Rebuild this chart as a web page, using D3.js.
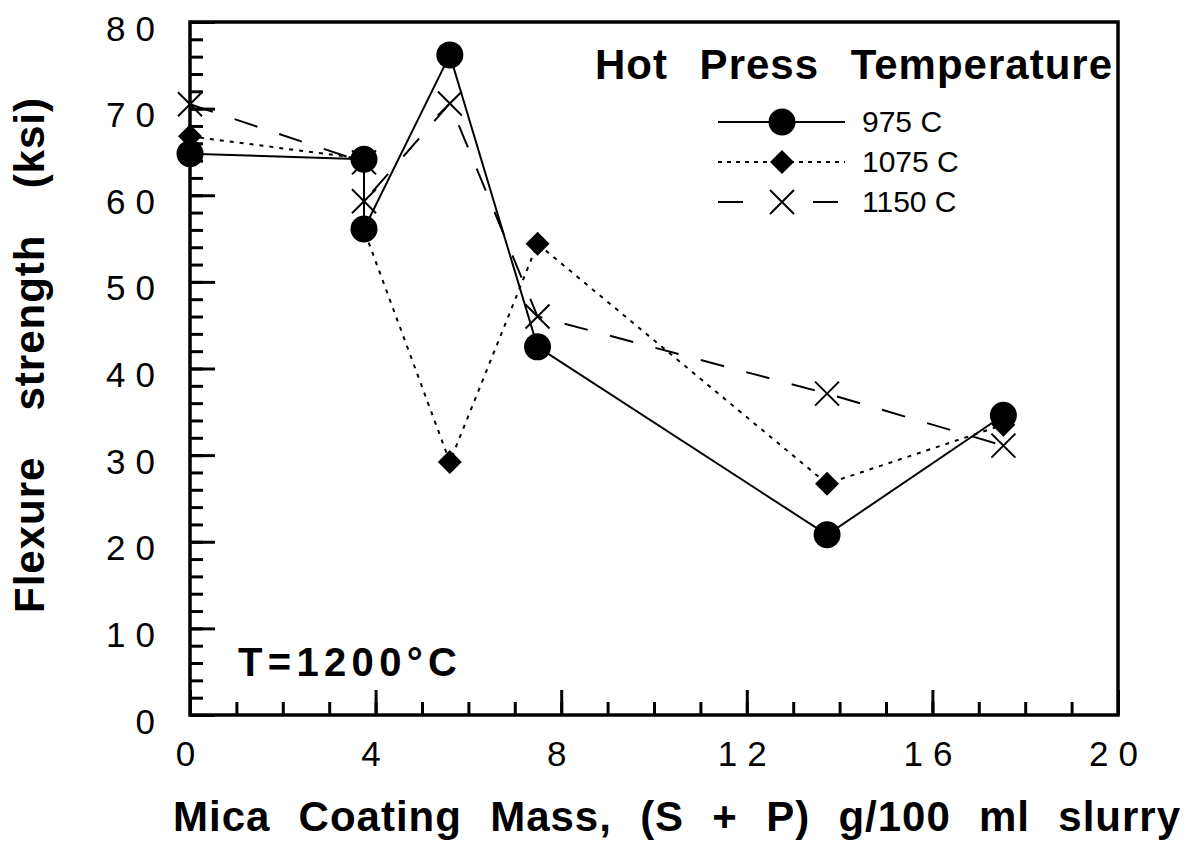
<!DOCTYPE html>
<html>
<head>
<meta charset="utf-8">
<script src="https://cdn.jsdelivr.net/npm/d3@7"></script>
<style>
  html, body { margin: 0; padding: 0; background: #fff; }
  svg { display: block; font-family: "Liberation Sans", Arial, Helvetica, sans-serif; }
</style>
</head>
<body>
<svg id="chart" width="1188" height="842"></svg>
<script>
// ---------------- data ----------------
const massX   = [0, 3.75, 3.75, 5.60, 7.49, 13.73, 17.53];
const s975    = [64.8, 64.15, 56.1, 76.2, 42.5, 20.8, 34.6];
const s1075   = [66.8, 64.2, 56.0, 29.2, 54.4, 26.7, 33.5];
const s1150   = [70.5, 63.8, 59.3, 70.6, 46.0, 37.1, 31.1];
const seriesNames = ["975 C", "1075 C", "1150 C"];
const xMajorTicks = [0, 4, 8, 12, 16, 20];
const xMinorTicks = d3.range(0, 21, 1);
const yMajorTicks = [0, 10, 20, 30, 40, 50, 60, 70, 80];
const yMinorTicks = d3.range(0, 81, 2);
const xTitle = "Mica Coating Mass, (S + P) g/100 ml slurry";
const yTitle = "Flexure strength (ksi)";
const legendTitle = "Hot Press Temperature";
const noteText = "T=1200\u00B0C";

// ---------------- layout ----------------
const svg = d3.select("#chart");
const L = 190, T = 22, R = 1118, B = 715;
const x = d3.scaleLinear().domain([0, 20]).range([L, R]);
const y = d3.scaleLinear().domain([0, 80]).range([B, T]);
const FONT = "'Liberation Sans', Arial, sans-serif";

svg.append("rect").attr("width", 1188).attr("height", 842).attr("fill", "#fff");

// minor ticks
svg.append("g").attr("transform", `translate(0,${B})`)
  .call(d3.axisBottom(x).tickValues(xMinorTicks).tickSize(-13).tickSizeOuter(0).tickFormat(""))
  .call(g => g.select(".domain").remove())
  .call(g => g.selectAll("line").attr("stroke", "#000").attr("stroke-width", 3));
svg.append("g").attr("transform", `translate(${L},0)`)
  .call(d3.axisLeft(y).tickValues(yMinorTicks).tickSize(-13).tickSizeOuter(0).tickFormat(""))
  .call(g => g.select(".domain").remove())
  .call(g => g.selectAll("line").attr("stroke", "#000").attr("stroke-width", 3));

// major ticks + labels
const xAxis = svg.append("g").attr("transform", `translate(0,${B})`)
  .call(d3.axisBottom(x).tickValues(xMajorTicks).tickSize(-25).tickSizeOuter(0).tickFormat(d3.format("d")));
xAxis.select(".domain").remove();
xAxis.selectAll("line").attr("stroke", "#000").attr("stroke-width", 3);
xAxis.selectAll("text").attr("y", 51).attr("dy", null)
  .attr("font-size", 35).attr("letter-spacing", "10px").attr("fill", "#000")
  .attr("font-family", FONT);

const yAxis = svg.append("g").attr("transform", `translate(${L},0)`)
  .call(d3.axisLeft(y).tickValues(yMajorTicks).tickSize(-25).tickSizeOuter(0).tickFormat(d3.format("d")));
yAxis.select(".domain").remove();
yAxis.selectAll("line").attr("stroke", "#000").attr("stroke-width", 3);
yAxis.selectAll("text").attr("x", -25).attr("y", 18).attr("dy", null)
  .attr("text-anchor", "end")
  .attr("font-size", 35).attr("letter-spacing", "10px").attr("fill", "#000")
  .attr("font-family", FONT);

// frame
svg.append("rect").attr("x", L).attr("y", T).attr("width", R - L).attr("height", B - T)
  .attr("fill", "none").attr("stroke", "#000").attr("stroke-width", 3.5);

// ---------------- series ----------------
const styles = [
  { vals: s975,  dash: null,    marker: "circle" },
  { vals: s1075, dash: "4,6",   marker: "diamond" },
  { vals: s1150, dash: "24,23", marker: "cross" }
];
const line = d3.line().x(d => x(d[0])).y(d => y(d[1]));
[2, 1, 0].forEach(i => {
  const pts = massX.map((m, j) => [m, styles[i].vals[j]]);
  svg.append("path").attr("d", line(pts)).attr("fill", "none")
    .attr("stroke", "#000").attr("stroke-width", 2)
    .attr("stroke-dasharray", styles[i].dash);
});

function drawMarker(g, type, cx, cy) {
  if (type === "circle") {
    g.append("circle").attr("cx", cx).attr("cy", cy).attr("r", 13.5).attr("fill", "#000");
  } else if (type === "diamond") {
    const s = 12;
    g.append("path").attr("d", `M${cx},${cy - s}L${cx + s},${cy}L${cx},${cy + s}L${cx - s},${cy}Z`).attr("fill", "#000");
  } else {
    const s = 12;
    g.append("path").attr("d", `M${cx - s},${cy - s}L${cx + s},${cy + s}M${cx - s},${cy + s}L${cx + s},${cy - s}`)
      .attr("stroke", "#000").attr("stroke-width", 2).attr("fill", "none");
  }
}
const mg = svg.append("g");
[2, 1, 0].forEach(i => {
  massX.forEach((m, j) => drawMarker(mg, styles[i].marker, x(m), y(styles[i].vals[j])));
});

// ---------------- text ----------------
function fitWords(sel, width) {
  const n = (sel.text().match(/ /g) || []).length;
  const w = sel.node().getComputedTextLength();
  if (n > 0) sel.attr("word-spacing", ((width - w) / n) + "px");
}

const xt = svg.append("text").attr("x", 173).attr("y", 831)
  .attr("font-size", 42).attr("font-weight", "bold").attr("letter-spacing", "1px")
  .attr("fill", "#000").text(xTitle);
fitWords(xt, 1008);

const yt = svg.append("text").attr("transform", "translate(44,613) rotate(-90)")
  .attr("font-size", 42).attr("font-weight", "bold").attr("letter-spacing", "1px")
  .attr("fill", "#000").text(yTitle);
fitWords(yt, 516);

const lt = svg.append("text").attr("x", 595).attr("y", 79)
  .attr("font-size", 42).attr("font-weight", "bold").attr("letter-spacing", "1px")
  .attr("fill", "#000").text(legendTitle);
fitWords(lt, 518);

svg.append("text").attr("x", 238).attr("y", 676)
  .attr("font-size", 40).attr("font-weight", "bold").attr("fill", "#000")
  .attr("textLength", 219).attr("lengthAdjust", "spacing").text(noteText);

// ---------------- legend ----------------
const legDash = [null, "4,5", "25,70"];
seriesNames.forEach((name, i) => {
  const ly = 122 + i * 40;
  svg.append("line").attr("x1", 718).attr("x2", 845).attr("y1", ly).attr("y2", ly)
    .attr("stroke", "#000").attr("stroke-width", 2).attr("stroke-dasharray", legDash[i]);
  drawMarker(svg, styles[i].marker, 782, ly);
  svg.append("text").attr("x", 862).attr("y", ly + 10)
    .attr("font-size", 30).attr("fill", "#000").text(name);
});
</script>
</body>
</html>
